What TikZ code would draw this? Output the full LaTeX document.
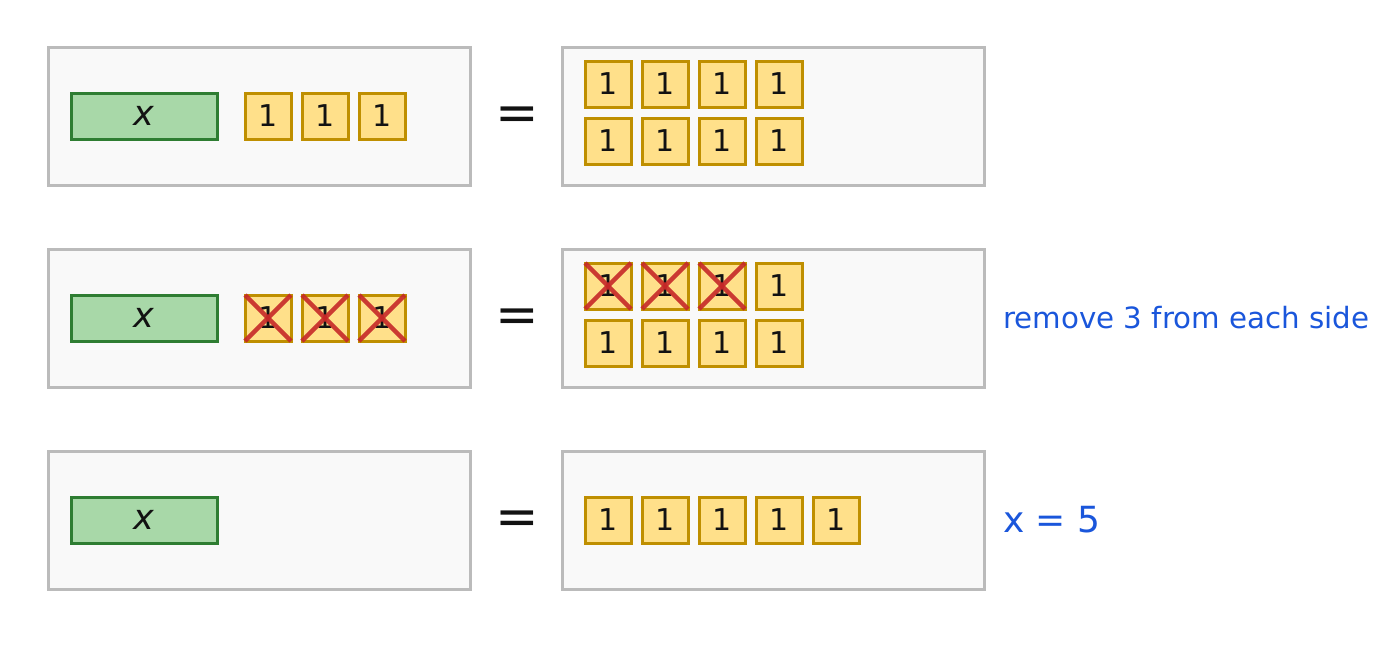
\documentclass[tikz,border=0pt]{standalone}
\usepackage{fontspec}
\setmainfont{DejaVu Sans}
\usepackage{xcolor}
\usetikzlibrary{positioning}
\definecolor{framegray}{HTML}{BBBBBB}
\definecolor{framefill}{HTML}{F9F9F9}
\definecolor{xedge}{HTML}{2E7D32}
\definecolor{xfill}{HTML}{A8D8A8}
\definecolor{tileedge}{HTML}{BF8F00}
\definecolor{tilefill}{HTML}{FFE08A}
\definecolor{crossred}{HTML}{C62828}
\definecolor{noteblue}{HTML}{1A56DB}
\tikzset{
  sidebox/.style={draw=framegray, fill=framefill, line width=3pt, minimum width=422pt, minimum height=138pt, outer sep=0pt},
  xbox/.style={draw=xedge, fill=xfill, line width=3pt, minimum width=146pt, minimum height=46pt, outer sep=0pt, inner sep=0pt, text=black!93, font=\fontsize{35}{35}\selectfont\itshape},
  unitbox/.style={draw=tileedge, fill=tilefill, line width=3pt, minimum size=46pt, outer sep=0pt, inner sep=0pt, text=black!93, font=\fontsize{30}{30}\selectfont},
  eqsign/.style={inner sep=0pt, text=black!93, font=\fontsize{52}{52}\selectfont},
  notetext/.style={anchor=west, inner sep=0pt, text=noteblue},
  crossout/.style={draw=crossred, line width=4.5pt, opacity=0.9},
}

\begin{document}
\begin{tikzpicture}[x=1pt, y=-1pt, node distance=11pt]
  \useasboundingbox (0,0) rectangle (1387,646);

  % Row 1: x + 3 = 8
  \node[sidebox] (L1) at (259,116) {};
  \node[sidebox] (R1) at (773,116) {};
  \node[eqsign] (E1) at (517,119) {=};
  \node[xbox] (X1) at (144,116) {x};
  \node[unitbox] (u11) at (268,116) {1};
  \node[unitbox, right=of u11] (u12) {1};
  \node[unitbox, right=of u12] (u13) {1};
  \node[unitbox] (r11) at (608,84) {1};
  \node[unitbox, right=of r11] (r12) {1};
  \node[unitbox, right=of r12] (r13) {1};
  \node[unitbox, right=of r13] (r14) {1};
  \node[unitbox, below=of r11] (r15) {1};
  \node[unitbox, right=of r15] (r16) {1};
  \node[unitbox, right=of r16] (r17) {1};
  \node[unitbox, right=of r17] (r18) {1};

  % Row 2: take 3 away on both sides
  \node[sidebox] (L2) at (259,318) {};
  \node[sidebox] (R2) at (773,318) {};
  \node[eqsign] (E2) at (517,321) {=};
  \node[xbox] (X2) at (144,318) {x};
  \node[unitbox] (u21) at (268,318) {1};
  \node[unitbox, right=of u21] (u22) {1};
  \node[unitbox, right=of u22] (u23) {1};
  \node[unitbox] (r21) at (608,286) {1};
  \node[unitbox, right=of r21] (r22) {1};
  \node[unitbox, right=of r22] (r23) {1};
  \node[unitbox, right=of r23] (r24) {1};
  \node[unitbox, below=of r21] (r25) {1};
  \node[unitbox, right=of r25] (r26) {1};
  \node[unitbox, right=of r26] (r27) {1};
  \node[unitbox, right=of r27] (r28) {1};
  \foreach \t in {u21,u22,u23,r21,r22,r23} {
    \draw[crossout] (\t.north west) -- (\t.south east);
    \draw[crossout] (\t.north east) -- (\t.south west);
  }
  \node[notetext, font=\fontsize{29.3}{29.3}\selectfont] (N2) at (1003,318) {remove 3 from each side};

  % Row 3: x = 5
  \node[sidebox] (L3) at (259,520) {};
  \node[sidebox] (R3) at (773,520) {};
  \node[eqsign] (E3) at (517,523) {=};
  \node[xbox] (X3) at (144,520) {x};
  \node[unitbox] (r31) at (608,520) {1};
  \node[unitbox, right=of r31] (r32) {1};
  \node[unitbox, right=of r32] (r33) {1};
  \node[unitbox, right=of r33] (r34) {1};
  \node[unitbox, right=of r34] (r35) {1};
  \node[notetext, font=\fontsize{36}{36}\selectfont] (N3) at (1003,520) {x = 5};
\end{tikzpicture}
\end{document}
